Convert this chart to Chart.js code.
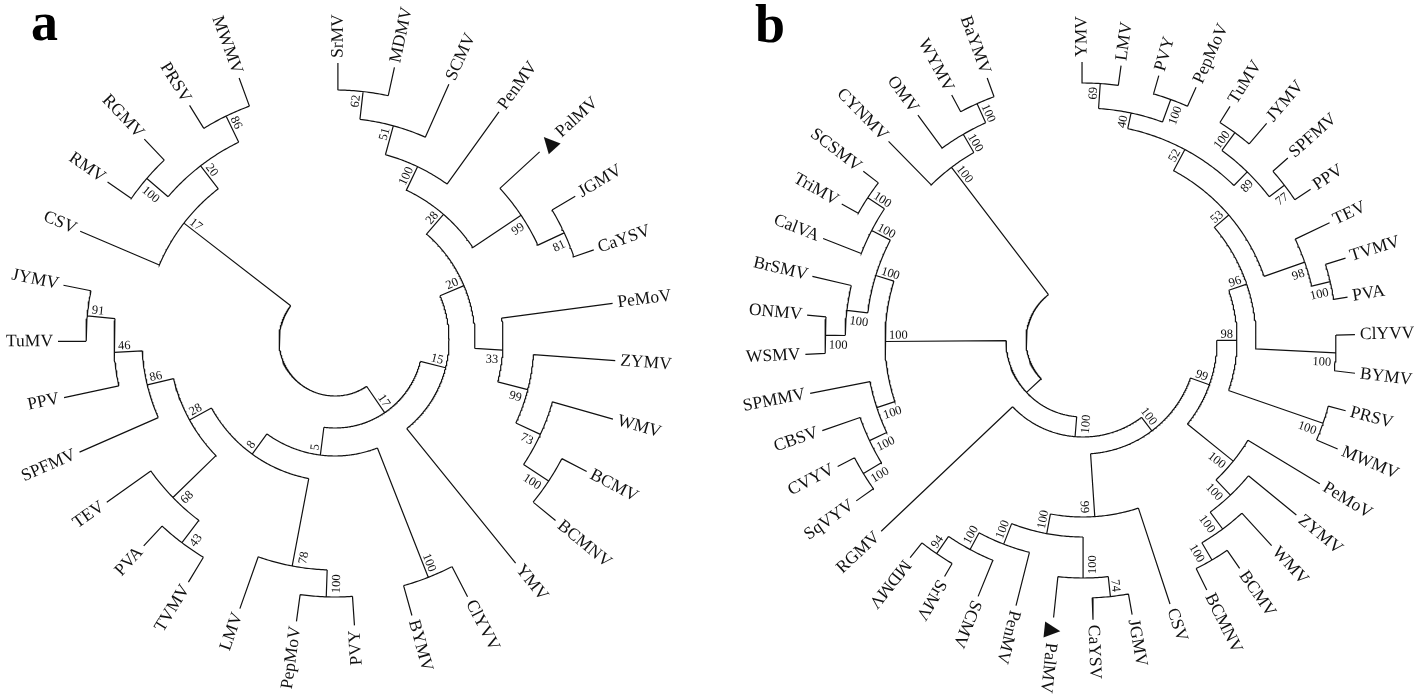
<!DOCTYPE html>
<html lang="en">
<head>
  <meta charset="UTF-8" />
  <title>Circular phylogenetic trees a / b</title>
  <style>
    body { margin: 0; background: #fff; }
    canvas { display: block; }
  </style>
  <script src="https://cdn.jsdelivr.net/npm/chart.js"></script>
</head>
<body>
  <canvas id="trees" width="1418" height="700"></canvas>
  <script>
    // Trees in Newick form: leaf = name:tipRadius, clade = (children)bootstrap:radius
    // children are listed clockwise, radius = distance of the node from the centre
    const treeA = `
      ((((((((SrMV:277,MDMV:279)62:250,SCMV:280)51:222,PenMV:281)100:192,
      (PalMV:278,(JGMV:280,CaYSV:274)81:253)99:224)28:166,
      (PeMoV:280,(ZYMV:281,(WMV:289,(BCMV:284,BCMNV:285)100:256)73:226)99:199)33:168)20:140,
      YMV:287)15:114,
      ((ClYVV:289,BYMV:286)100:255,
      (((PVY:286,PepMoV:284)100:257,LMV:285)78:230,
      (((TVMV:283,PVA:281)43:254,TEV:280)68:226,
      (SPFMV:279,(PPV:277,(TuMV:277,JYMV:277)91:249)46:221)86:193)28:166)8:141)5:116)17:88,
      (CSV:277,((RMV:277,RGMV:277)100:248,(PRSV:276,MWMV:279)86:249)20:220)17:191):56`;

    const treeB = `
      (((((((((((YMV:278,LMV:277)69:257,(PVY:275,PepMoV:277)100:256)40:232,
      ((TuMV:276,JYMV:284)100:257,(SPFMV:274,PPV:273)77:254)89:235)52:216,
      (TEV:273,(TVMV:275,PVA:268)100:254)98:235)53:192,
      (ClYVV:272,BYMV:274)100:253)96:173,
      (PRSV:272,MWMV:277)100:254)98:154,
      (PeMoV:277,(ZYMV:276,(WMV:279,(BCMV:277,BCMNV:279)100:255)100:235)100:214)100:193)99:134,
      (CSV:278,(((JGMV:279,CaYSV:280)74:258,PalMV:279)100:238,
      (PenMV:274,(SCMV:277,(SrMV:274,MDMV:278)94:259)100:238)100:219)100:197)99:177)100:114,
      RGMV:278)100:97,
      ((((SqVYV:278,CVYV:276)100:257,CBSV:276)100:236,SPMMV:278)100:217,
      (((WSMV:278,ONMV:277)100:258,BrSMV:278)100:238,
      (CalVA:279,(TriMV:277,SCSMV:277)100:258)100:238)100:217)100:198):77,
      (CYNMV:278,(OMV:279,(WYMV:278,BaYMV:279)100:259)100:238)100:217):57`;

    // angle of the first leaf and clockwise step between leaves (degrees)
    const leafStartA = 89.4, leafStepA = 11.7;
    const leafStartB = 90.2, leafStepB = 8.098;
    const markedLeaves = ["PalMV"];
    const panelLabels = ["a", "b"];

    function parseNewick(s) {
      let i = 0;
      function node() {
        const n = { kids: [] };
        if (s[i] === "(") {
          i++;
          n.kids.push(node());
          while (s[i] === ",") { i++; n.kids.push(node()); }
          i++;
        }
        let label = "";
        while (i < s.length && !":,()".includes(s[i])) label += s[i++];
        if (s[i] === ":") {
          i++;
          let num = "";
          while (i < s.length && !",()".includes(s[i])) num += s[i++];
          n.r = parseFloat(num);
        }
        if (n.kids.length) n.bs = label; else n.name = label;
        return n;
      }
      return node();
    }

    function buildTree(src, cx, cy, start, step, leafFlip) {
      const t = { cx, cy, leafFlip, root: parseNewick(src.replace(/\s+/g, "")) };
      let k = 0;
      (function place(n) {
        if (!n.kids.length) { n.a = start - step * k++; return; }
        n.kids.forEach(place);
        const as = n.kids.map(c => c.a);
        n.lo = Math.min(...as);
        n.hi = Math.max(...as);
        n.a = (n.lo + n.hi) / 2;
      })(t.root);
      return t;
    }

    function toXY(t, r, a) {
      const rad = a * Math.PI / 180;
      return { x: t.cx + r * Math.cos(rad), y: t.cy - r * Math.sin(rad) };
    }

    function lineData(t) {
      const out = [];
      (function walk(n) {
        if (!n.kids.length) return;
        for (let a = n.lo; a < n.hi; a += 0.5) out.push(toXY(t, n.r, a));
        out.push(toXY(t, n.r, n.hi), { x: null, y: null });
        n.kids.forEach(c => {
          out.push(toXY(t, n.r, c.a), toXY(t, c.r, c.a), { x: null, y: null });
          walk(c);
        });
      })(t.root);
      return out;
    }

    const trees = [
      buildTree(treeA, 335, 340, leafStartA, leafStepA, [95, 280]),
      buildTree(treeB, 1083, 340, leafStartB, leafStepB, [95, 227])
    ];

    const norm = a => ((a % 360) + 360) % 360;
    const SERIF = "'Liberation Serif', 'Times New Roman', serif";

    const treeText = {
      id: "treeText",
      afterDatasetsDraw(chart) {
        const { ctx, scales: { x, y } } = chart;
        const px = p => [x.getPixelForValue(p.x), y.getPixelForValue(p.y)];
        ctx.save();
        ctx.fillStyle = "#111";
        ctx.textBaseline = "middle";
        trees.forEach(t => {
          (function walk(n) {
            n.kids.forEach(c => {
              if (!c.kids.length) {
                const [X, Y] = px(toXY(t, c.r, c.a));
                const flip = norm(c.a) > t.leafFlip[0] && norm(c.a) < t.leafFlip[1];
                ctx.save();
                ctx.translate(X, Y);
                ctx.rotate(-c.a * Math.PI / 180 + (flip ? Math.PI : 0));
                ctx.font = "17.5px " + SERIF;
                ctx.textAlign = "left";
                let text = c.name, pos = 5;
                if (markedLeaves.includes(c.name)) {
                  ctx.font = "21px 'DejaVu Sans', sans-serif";
                  ctx.fillText("\u25B2", pos, 0);
                  pos += ctx.measureText("\u25B2").width;
                  ctx.font = "17.5px " + SERIF;
                  text = " " + c.name;
                }
                if (flip) {
                  ctx.textAlign = "right";
                  ctx.fillText(c.name, -5, 0);
                } else {
                  ctx.fillText(text, pos, 0);
                }
                ctx.restore();
              } else {
                if (c.bs) {
                  const [X, Y] = px(toXY(t, c.r, c.a));
                  const na = norm(c.a);
                  const flip = na > 90 && na <= 271;
                  const side = c.a === n.hi ? 1 : -1;
                  const above = (side > 0) !== flip;
                  ctx.save();
                  ctx.translate(X, Y);
                  ctx.rotate(-c.a * Math.PI / 180 + (flip ? Math.PI : 0));
                  ctx.font = "12.5px " + SERIF;
                  ctx.textAlign = flip ? "left" : "right";
                  ctx.fillText(c.bs, flip ? 4 : -4, above ? -6 : 10);
                  ctx.restore();
                }
                walk(c);
              }
            });
          })(t.root);
        });
        ctx.font = "bold 54px " + SERIF;
        ctx.textAlign = "left";
        ctx.textBaseline = "alphabetic";
        ctx.fillStyle = "#000";
        ctx.fillText(panelLabels[0], x.getPixelForValue(31), y.getPixelForValue(40));
        ctx.fillText(panelLabels[1], x.getPixelForValue(755), y.getPixelForValue(42));
        ctx.restore();
      }
    };

    new Chart(document.getElementById("trees"), {
      type: "scatter",
      data: {
        datasets: trees.map(t => ({
          data: lineData(t),
          showLine: true,
          spanGaps: false,
          borderColor: "#111",
          borderWidth: 1.2,
          pointRadius: 0,
          tension: 0
        }))
      },
      options: {
        responsive: false,
        devicePixelRatio: 1,
        animation: false,
        events: [],
        layout: { padding: 0 },
        scales: {
          x: { type: "linear", min: 0, max: 1418, display: false },
          y: { type: "linear", min: 0, max: 700, reverse: true, display: false }
        },
        plugins: { legend: { display: false }, tooltip: { enabled: false } }
      },
      plugins: [treeText]
    });
  </script>
</body>
</html>
